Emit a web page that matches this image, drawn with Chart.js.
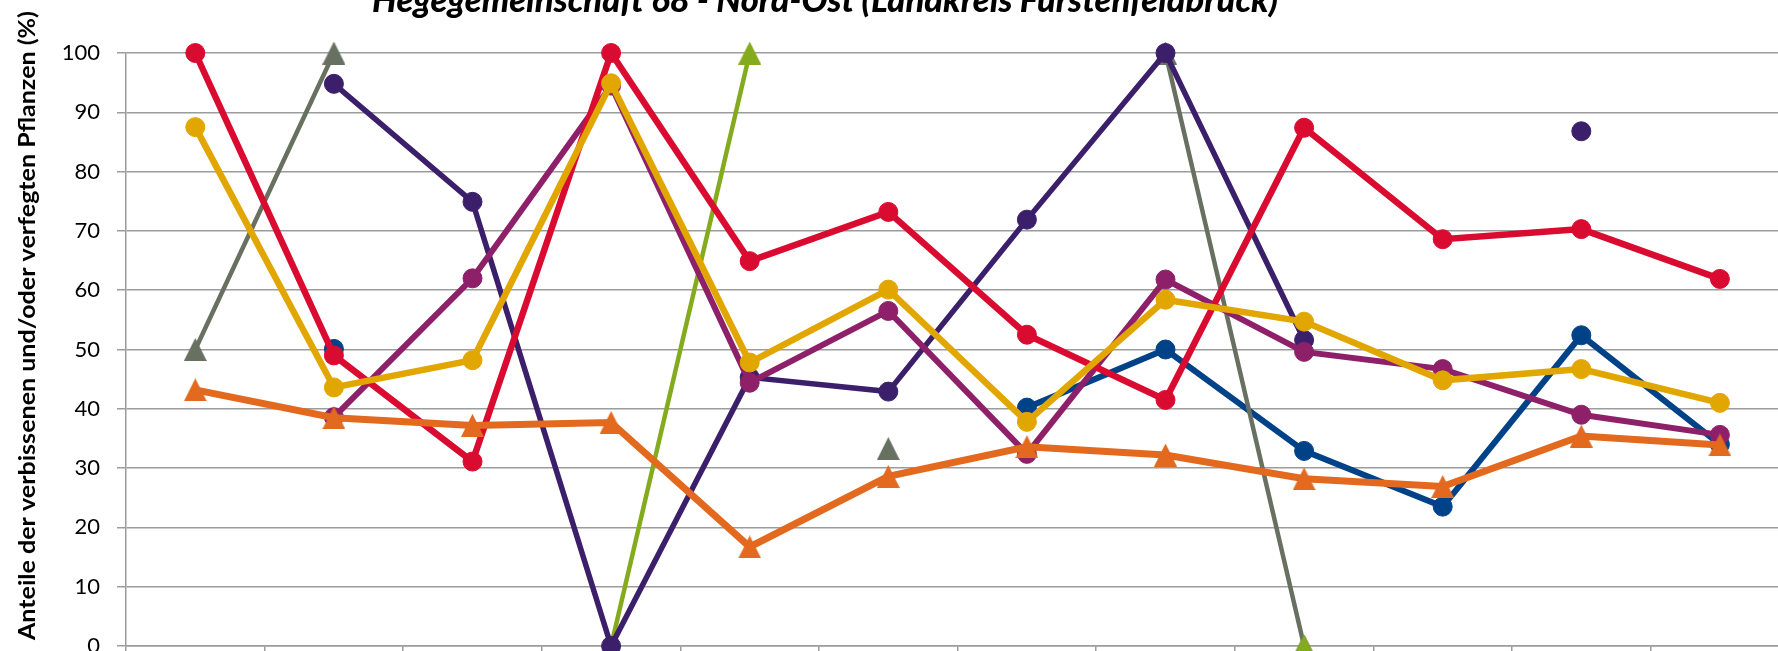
<!DOCTYPE html>
<html>
<head>
<meta charset="utf-8">
<script src="https://cdn.jsdelivr.net/npm/chart.js@4.4.1/dist/chart.umd.min.js"></script>
<style>
  html, body { margin: 0; padding: 0; background: #fff; }
  body { width: 1778px; height: 651px; overflow: hidden; }
  #wrap { position: relative; width: 1800px; height: 720px; }
</style>
</head>
<body>
<div id="wrap"><canvas id="chart"></canvas></div>
<script>
const TITLE = 'Hegegemeinschaft 68 - Nord-Ost (Landkreis Fürstenfeldbruck)'
const Y_TITLE = 'Anteile der verbissenen und/oder verfegten Pflanzen (%)'

// categories sit below the cropped area of the picture
const categories = ['1', '2', '3', '4', '5', '6', '7', '8', '9', '10', '11', '12']
const yTicks = [0, 10, 20, 30, 40, 50, 60, 70, 80, 90, 100]

const orangeVals = [43.2, 38.5, 37.2, 37.7, 16.7, 28.6, 33.6, 32.2, 28.2, 26.9, 35.4, 33.9]
const goldVals   = [87.5, 43.6, 48.2, 94.9, 47.8, 60.1, 37.8, 58.4, 54.7, 44.8, 46.7, 41.0]
const redVals    = [100, 49.0, 31.1, 100, 64.9, 73.2, 52.5, 41.5, 87.4, 68.6, 70.3, 61.9]
const plumVals   = [null, 38.6, 62.0, 94.5, 44.4, 56.5, 32.4, 61.8, 49.6, 46.7, 39.0, 35.6]
const purpleVals = [null, 94.8, 74.9, 0, 45.3, 42.9, 71.9, 100, 51.6, null, 86.8, null]
const greenVals  = [null, null, null, 0, 100, null, null, null, 0, null, null, null]
const greyVals   = [50, 100, null, null, null, 33.3, null, 100, 0, null, null, null]
const blueVals   = [null, 50.1, null, null, null, null, 40.2, 50.0, 32.9, 23.5, 52.4, 34.0]

const COLORS = {
  orange: '#E2691E',
  gold:   '#E2A600',
  red:    '#DA0B31',
  plum:   '#8E206A',
  purple: '#3C1F6A',
  green:  '#84AB1E',
  grey:   '#687161',
  blue:   '#004288',
}

function triangleMarker(color, size) {
  const c = document.createElement('canvas')
  c.width = size
  c.height = size
  const ctx = c.getContext('2d')
  ctx.fillStyle = color
  ctx.beginPath()
  ctx.moveTo(size / 2, 0)
  ctx.lineTo(size, size)
  ctx.lineTo(0, size)
  ctx.closePath()
  ctx.fill()
  return c
}

function lineSet(data, color, width, marker) {
  const set = {
    data,
    borderColor: color,
    backgroundColor: color,
    borderWidth: width,
    pointBackgroundColor: color,
    pointBorderColor: color,
    pointBorderWidth: 1,
    pointRadius: 9.5,
    pointHoverRadius: 9.5,
    tension: 0,
    fill: false,
    clip: false,
  }
  if (marker === 'triangle') {
    set.pointStyle = triangleMarker(color, 23)
  }
  return set
}

// draw text squeezed/stretched to a given width
function drawFitted(ctx, text, x, y, width) {
  const s = width / ctx.measureText(text).width
  ctx.save()
  ctx.translate(x, y)
  ctx.scale(s, 1)
  ctx.fillText(text, 0, 0)
  ctx.restore()
}

const textPlugin = {
  id: 'cropTexts',
  afterDraw(chart) {
    const { ctx } = chart
    ctx.save()
    ctx.fillStyle = '#000'
    ctx.textAlign = 'left'
    ctx.textBaseline = 'alphabetic'

    ctx.font = 'italic 900 34px Lato'
    drawFitted(ctx, TITLE, 372, 12, 906)

    ctx.translate(35, 640)
    ctx.rotate(-Math.PI / 2)
    ctx.font = 'bold 23px Lato'
    drawFitted(ctx, Y_TITLE, 0, 0, 629)
    ctx.restore()
  }
}

const gridGrey = '#9c9c9c'

new Chart(document.getElementById('chart'), {
  type: 'line',
  data: {
    labels: categories,
    datasets: [
      lineSet(orangeVals, COLORS.orange, 7, 'triangle'),
      lineSet(goldVals,   COLORS.gold,   6.5, 'circle'),
      lineSet(redVals,    COLORS.red,    6.5, 'circle'),
      lineSet(plumVals,   COLORS.plum,   6, 'circle'),
      lineSet(purpleVals, COLORS.purple, 5.5, 'circle'),
      lineSet(greenVals,  COLORS.green,  4.5, 'triangle'),
      lineSet(greyVals,   COLORS.grey,   4.5, 'triangle'),
      lineSet(blueVals,   COLORS.blue,   6, 'circle'),
    ]
  },
  options: {
    responsive: true,
    maintainAspectRatio: false,
    animation: false,
    layout: { padding: { top: 53, right: 10.8, left: 0, bottom: 0 } },
    plugins: {
      legend: { display: false },
      title: { display: false },
      tooltip: { enabled: false },
    },
    scales: {
      x: {
        offset: true,
        afterFit: s => { s.height = 74 },
        grid: {
          offset: true,
          drawOnChartArea: false,
          drawTicks: true,
          tickLength: 8,
          tickColor: gridGrey,
          lineWidth: 1.5,
        },
        border: { color: gridGrey, width: 1.5 },
        ticks: { color: '#000', font: { family: 'Lato', size: 22 } },
      },
      y: {
        min: 0,
        max: 100,
        afterFit: s => { s.width = 126 },
        afterBuildTicks: s => { s.ticks = yTicks.map(v => ({ value: v })) },
        grid: {
          color: gridGrey,
          lineWidth: 1.5,
          drawTicks: true,
          tickLength: 9,
          tickColor: gridGrey,
        },
        border: { color: gridGrey, width: 1.5 },
        ticks: {
          padding: 17,
          color: '#000',
          font: { family: 'Lato', size: 22 },
        },
      }
    }
  },
  plugins: [textPlugin]
})
</script>
</body>
</html>
